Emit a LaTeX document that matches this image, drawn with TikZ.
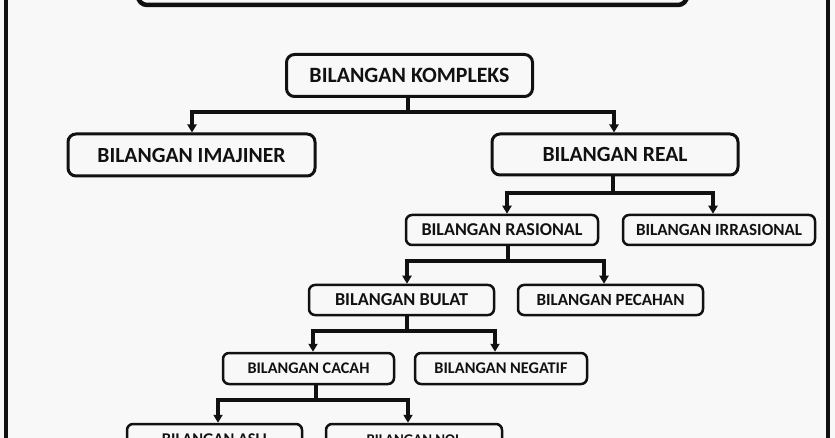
\documentclass[tikz,border=0pt]{standalone}
\usepackage{fontspec}
\setmainfont{Carlito}
\usetikzlibrary{arrows.meta}
\definecolor{bg}{HTML}{F8F8F8}
\definecolor{ink}{HTML}{111111}
\newcommand{\fitw}[2]{\resizebox{#1pt}{!}{\bfseries #2}}
\begin{document}
\begin{tikzpicture}[x=1pt,y=-1pt,
  bigbox/.style={draw=ink,line width=3pt,rounded corners=8pt,inner sep=0pt,text=ink},
  smallbox/.style={draw=ink,line width=2.5pt,rounded corners=6pt,inner sep=0pt,text=ink},
  conn/.style={draw=ink,line width=3.5pt,line join=miter},
  arr/.style={conn,{Triangle[length=8pt,width=9pt]}-{Triangle[length=8pt,width=9pt]}}
]
\useasboundingbox (0,0) rectangle (835,438);
\fill[bg] (0,0) rectangle (835,438);
% frame
\draw[ink,line width=4pt] (6,-20) -- (6,460);
\draw[ink,line width=4pt] (828,-20) -- (828,460);
% top (title) box, mostly cut off
\node[draw=ink,line width=4.5pt,rounded corners=9pt,minimum width=549pt,minimum height=40pt,inner sep=0pt] (title) at (412.5,-15) {};
% nodes
\node[bigbox,minimum width=246pt,minimum height=42pt] (komp) at (409.5,75.5) {\fitw{200}{BILANGAN KOMPLEKS}};
\node[bigbox,minimum width=247pt,minimum height=42pt] (imaj) at (191.5,155) {\fitw{188}{BILANGAN IMAJINER}};
\node[bigbox,minimum width=246pt,minimum height=41pt] (real) at (615,154.5) {\fitw{145}{BILANGAN REAL}};
\node[smallbox,minimum width=192pt,minimum height=30pt] (ras) at (502,230) {\fitw{161}{BILANGAN RASIONAL}};
\node[smallbox,minimum width=192pt,minimum height=30pt] (irr) at (719,230) {\fitw{166}{BILANGAN IRRASIONAL}};
\node[smallbox,minimum width=185pt,minimum height=30pt] (bul) at (401.5,300) {\fitw{133}{BILANGAN BULAT}};
\node[smallbox,minimum width=185pt,minimum height=30pt] (pec) at (610.5,300) {\fitw{148}{BILANGAN PECAHAN}};
\node[smallbox,minimum width=171pt,minimum height=31pt] (cac) at (308.5,368.5) {\fitw{122}{BILANGAN CACAH}};
\node[smallbox,minimum width=172pt,minimum height=31pt] (neg) at (501,368.5) {\fitw{133}{BILANGAN NEGATIF}};
\node[smallbox,minimum width=175pt,minimum height=31pt] (asli) at (214.5,439.5) {\fitw{105}{BILANGAN ASLI}};
\node[smallbox,minimum width=176pt,minimum height=31pt] (nol) at (414,439.5) {\fitw{95}{BILANGAN NOL}};
% junction coordinates
\coordinate (k1) at (192,112); \coordinate (k2) at (614,112);
\coordinate (r1) at (507,193); \coordinate (r2) at (713,193);
\coordinate (s1) at (407,261); \coordinate (s2) at (604,261);
\coordinate (b1) at (313,331); \coordinate (b2) at (495,331);
\coordinate (c1) at (218,400); \coordinate (c2) at (408,400);
% connectors
\draw[conn] (408,0 |- komp.south) -- (408,112);
\draw[arr] (imaj.north -| k1) -- (k1) -- (k2) -- (real.north -| k2);
\draw[conn] (613,0 |- real.south) -- (613,193);
\draw[arr] (ras.north -| r1) -- (r1) -- (r2) -- (irr.north -| r2);
\draw[conn] (508,0 |- ras.south) -- (508,261);
\draw[arr] (bul.north -| s1) -- (s1) -- (s2) -- (pec.north -| s2);
\draw[conn] (407,0 |- bul.south) -- (407,331);
\draw[arr] (cac.north -| b1) -- (b1) -- (b2) -- (neg.north -| b2);
\draw[conn] (316,0 |- cac.south) -- (316,400);
\draw[arr] (asli.north -| c1) -- (c1) -- (c2) -- (nol.north -| c2);
\end{tikzpicture}
\end{document}
